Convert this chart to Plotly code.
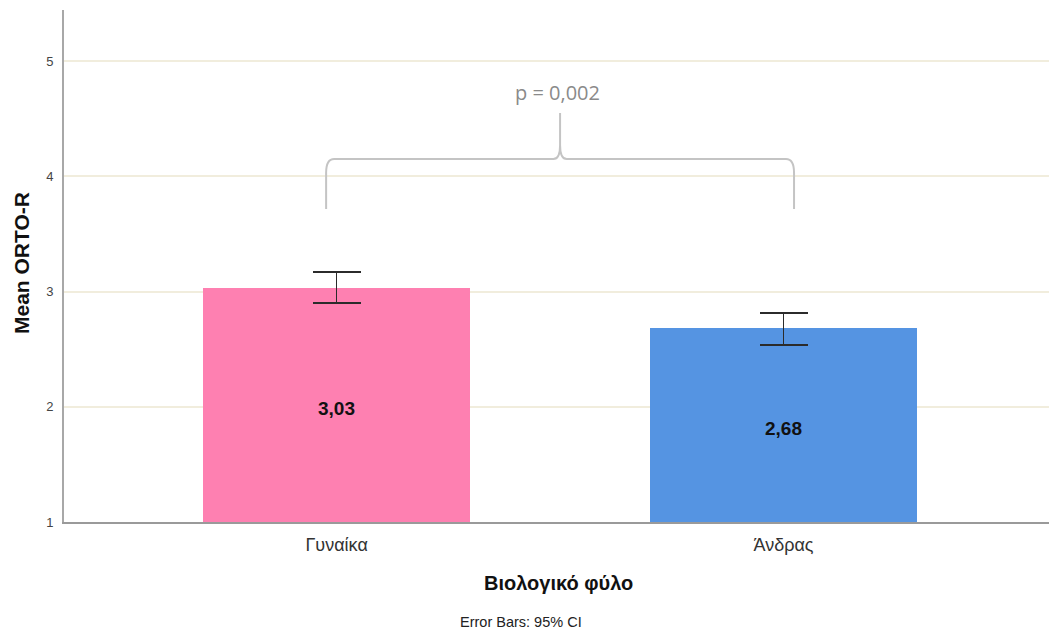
import plotly.graph_objects as go

# Mean ORTO-R by biological sex, with 95% CI error bars
categories = ["Γυναίκα", "Άνδρας"]
means = [3.03, 2.68]
ci_plus = [0.14, 0.135]
ci_minus = [0.13, 0.145]
bar_colors = ["#fe80b1", "#5594e2"]
p_label = "p = 0,002"
y_ticks = [1, 2, 3, 4, 5]

AXIS_BASE = 1
FONT = "Liberation Sans, Arial, sans-serif"
x_pos = list(range(len(categories)))
labels = [f"{v:.2f}".replace(".", ",") for v in means]

fig = go.Figure()
fig.add_trace(go.Bar(
    x=x_pos,
    y=[v - AXIS_BASE for v in means],
    base=[AXIS_BASE] * len(means),
    width=0.597,
    marker=dict(color=bar_colors, line=dict(width=0)),
    error_y=dict(type="data", symmetric=False, array=ci_plus, arrayminus=ci_minus,
                 color="#2b2b2b", thickness=1.6, width=24),
    hoverinfo="skip",
    showlegend=False,
))

# value labels, centred in the visible part of each bar
for xp, v, lab in zip(x_pos, means, labels):
    fig.add_annotation(x=xp, y=(AXIS_BASE + v) / 2, xref="x", yref="y", text=f"<b>{lab}</b>",
                       showarrow=False, yshift=-3,
                       font=dict(family=FONT, size=19, color="#111111"))

# significance brace between the two groups
L, R, M = -0.0235, 1.0235, 0.5
y0, yc, yh, ys, yt = 3.716, 4.03, 4.15, 4.27, 4.55
brace = (f"M {L},{y0} L {L},{yc} Q {L},{yh} {L + 0.018},{yh} "
         f"L {M - 0.015},{yh} Q {M},{yh} {M},{ys} L {M},{yt} "
         f"M {M},{ys} Q {M},{yh} {M + 0.015},{yh} "
         f"L {R - 0.018},{yh} Q {R},{yh} {R},{yc} L {R},{y0}")
fig.add_shape(type="path", path=brace, xref="x", yref="y",
              line=dict(color="#c4c4c4", width=2))

fig.add_annotation(x=M - 0.005, y=4.73, xref="x", yref="y", text=p_label, showarrow=False,
                   font=dict(family="Open Sans, Noto Sans, sans-serif", size=20, color="#8a8a8a"))

# axis titles and footnote
fig.add_annotation(x=M - 0.003, y=0, xref="x", yref="paper", yanchor="middle", yshift=-61,
                   text="<b>Βιολογικό φύλο</b>", showarrow=False,
                   font=dict(family=FONT, size=20, color="#111111"))
fig.add_annotation(x=0.413, y=0, xref="x", yref="paper", yanchor="middle", yshift=-100,
                   text="Error Bars: 95% CI", showarrow=False,
                   font=dict(family=FONT, size=14.5, color="#222222"))
fig.add_annotation(x=0, y=0.5, xref="paper", yref="paper", xanchor="center", yanchor="middle",
                   xshift=-43, yshift=3, textangle=-90, text="<b>Mean ORTO-R</b>", showarrow=False,
                   font=dict(family=FONT, size=21, color="#111111"))

fig.update_layout(
    width=1049, height=635,
    margin=dict(l=64, r=0, t=10, b=113),
    paper_bgcolor="white", plot_bgcolor="white",
    bargap=0,
)
fig.update_xaxes(
    range=[-0.610, 1.594], tickmode="array", tickvals=x_pos, ticktext=categories,
    showgrid=False, zeroline=False,
    showline=True, linecolor="#9a9a9a", linewidth=2,
    ticks="", ticklabelstandoff=5,
    tickfont=dict(family=FONT, size=18, color="#333333"),
)
fig.update_yaxes(
    range=[1, 5.443], tickmode="array", tickvals=y_ticks,
    showgrid=True, gridcolor="#f1eddd", gridwidth=1.5, zeroline=False,
    showline=True, linecolor="#a8a8a8", linewidth=2,
    ticks="", ticklabelstandoff=6,
    tickfont=dict(family=FONT, size=13, color="#444444"),
)

fig.write_html("out.html")
